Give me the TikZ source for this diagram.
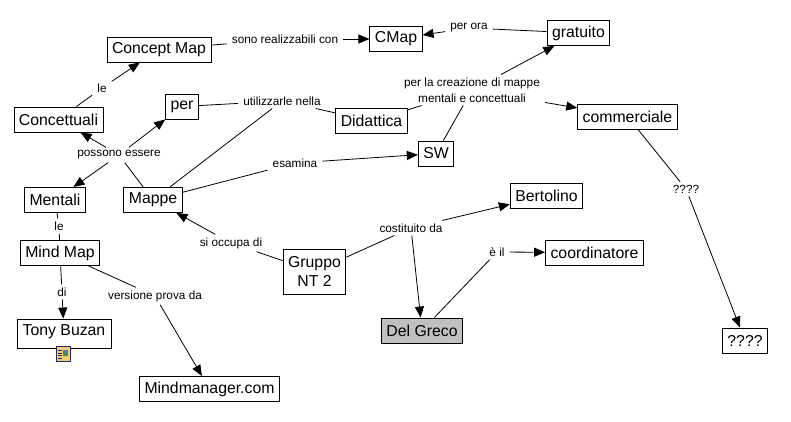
\documentclass[tikz,border=0pt]{standalone}
\usepackage{fontspec}
\setmainfont{Liberation Sans}
\usetikzlibrary{arrows.meta}
\definecolor{greybox}{RGB}{192,192,192}
\definecolor{iconborder}{RGB}{40,40,110}
\definecolor{iconfill}{RGB}{240,205,110}
\definecolor{iconsky}{RGB}{70,120,200}
\definecolor{icongrass}{RGB}{60,150,60}
\begin{document}
\begin{tikzpicture}[x=1pt,y=-1pt,
  concept/.style={draw=black,line width=0.9pt,fill=white,inner xsep=5pt,inner ysep=2pt,
    minimum height=25pt,font=\fontsize{15.8}{19}\selectfont,anchor=center},
  linkl/.style={inner xsep=5pt,inner ysep=3pt,font=\fontsize{11.8}{16}\selectfont,align=center},
  conn/.style={line width=0.8pt,black},
  arr/.style={conn,-{Triangle[length=11pt,width=9pt]}}
]
\useasboundingbox (0,0) rectangle (791,421);
% concepts
\node[concept] (cm) at (159,49.5) {Concept Map};
\node[concept] (cmap) at (396,39) {CMap};
\node[concept] (grat) at (578.5,33) {gratuito};
\node[concept] (comm) at (627.5,116.5) {commerciale};
\node[concept] (did) at (371.5,121) {Didattica};
\node[concept] (sw) at (436,153.5) {SW};
\node[concept] (per) at (182,106.5) {per};
\node[concept] (conc) at (58.5,119.5) {Concettuali};
\node[concept] (ment) at (55,200) {Mentali};
\node[concept] (mappe) at (153,200) {Mappe};
\node[concept] (mm) at (60,253) {Mind Map};
\node[concept,minimum width=94pt,minimum height=29pt,text depth=7pt] (tony) at (64,333.5) {Tony Buzan};
\node[concept] (mmc) at (209.5,389) {Mindmanager.com};
\node[concept,align=center,minimum height=45pt] (gruppo) at (314.5,271.5) {Gruppo\\NT 2};
\node[concept,fill=greybox] (delg) at (422,330.5) {Del Greco};
\node[concept] (bert) at (546.5,195.5) {Bertolino};
\node[concept] (coord) at (594.5,252.5) {coordinatore};
\node[concept] (qq) at (745,340.5) {????};
% icon under Tony Buzan
\begin{scope}[shift={(63,354)}]
  \node[draw=iconborder,line width=0.9pt,fill=iconfill,
    minimum width=14pt,minimum height=15pt,inner sep=0pt] (icon) at (0,0) {};
  \fill[iconsky] (0,-4) rectangle (5,2);
  \fill[icongrass] (0,0) -- (2.5,-2) -- (5,1) -- (5,2) -- (0,2) -- cycle;
  \foreach \yy in {-3.5,-1,1.5,4}{\draw[iconborder,line width=0.8pt] (-5,\yy) -- (-1.5,\yy);}
\end{scope}
% link labels
\node[linkl] (l1) at (285,39) {sono realizzabili con};
\node[linkl] (l2) at (469,28) {per ora};
\node[linkl] (l3) at (102,88) {le};
\node[linkl] (l4) at (282,101) {utilizzarle nella};
\node[linkl] (l5) at (472,90) {per la creazione di mappe\\mentali e concettuali};
\node[linkl] (l6) at (119,155) {possono essere};
\node[linkl] (l7) at (295,163) {esamina};
\node[linkl] (l8) at (59,226) {le};
\node[linkl] (l9) at (62,292) {di};
\node[linkl] (l10) at (155,296) {versione prova da};
\node[linkl] (l11) at (231,243) {si occupa di};
\node[linkl] (l12) at (411,228) {costituito da};
\node[linkl] (l13) at (497,252) {è il};
\node[linkl] (l14) at (686,189) {????};
% connectors
\draw[conn] (cm) -- (l1); \draw[arr] (l1) -- (cmap);
\draw[conn] (grat) -- (l2); \draw[arr] (l2) -- (cmap);
\draw[conn] (conc) -- (l3); \draw[arr] (l3) -- (cm);
\draw[conn] (per) -- (l4); \draw[conn] (mappe) -- (l4); \draw[conn] (l4) -- (did);
\draw[conn] (did) -- (l5); \draw[conn] (sw) -- (l5);
\draw[arr] (l5) -- (grat); \draw[arr] (l5) -- (comm);
\draw[conn] (mappe) -- (l6);
\draw[arr] (l6) -- (conc); \draw[arr] (l6) -- (ment); \draw[arr] (l6) -- (per);
\draw[conn] (mappe) -- (l7); \draw[arr] (l7) -- (sw);
\draw[conn] (ment) -- (l8); \draw[conn] (l8) -- (mm);
\draw[conn] (mm) -- (l9); \draw[arr] (l9) -- (tony);
\draw[conn] (mm) -- (l10); \draw[arr] (l10) -- (mmc);
\draw[conn] (gruppo) -- (l11); \draw[arr] (l11) -- (mappe);
\draw[conn] (gruppo) -- (l12); \draw[arr] (l12) -- (bert); \draw[arr] (l12) -- (delg);
\draw[conn] (delg) -- (l13); \draw[arr] (l13) -- (coord);
\draw[conn] (comm) -- (l14); \draw[arr] (l14) -- (qq);
\end{tikzpicture}
\end{document}
